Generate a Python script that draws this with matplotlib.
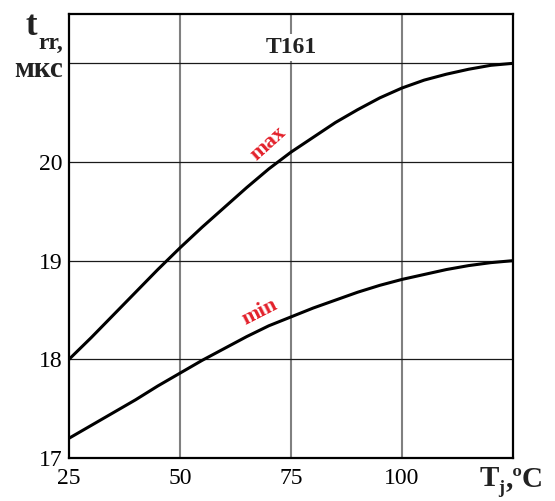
import matplotlib
matplotlib.use("Agg")
import matplotlib.pyplot as plt

plt.rcParams["font.family"] = ["Liberation Serif", "DejaVu Serif"]

tj = [25, 30, 35, 40, 45, 50, 55, 60, 65, 70, 75, 80, 85, 90, 95, 100, 105, 110, 115, 120, 125]
trr_max = [18.0, 18.22, 18.45, 18.68, 18.91, 19.13, 19.34, 19.54, 19.74, 19.93, 20.10,
           20.25, 20.40, 20.53, 20.65, 20.75, 20.83, 20.89, 20.94, 20.98, 21.0]
trr_min = [17.2, 17.33, 17.46, 17.59, 17.73, 17.86, 17.99, 18.11, 18.23, 18.34, 18.43,
           18.52, 18.60, 18.68, 18.75, 18.81, 18.86, 18.91, 18.95, 18.98, 19.0]

xticks = [25, 50, 75, 100]
yticks = [17, 18, 19, 20]
vgrid = [50, 75, 100]
hgrid = [18, 19, 20, 21]

W, H = 555, 501
fig = plt.figure(figsize=(W / 100, H / 100), dpi=100)
ax = fig.add_axes([69 / W, 1 - 458 / H, (513 - 69) / W, (458 - 14) / H])

for x in vgrid:
    ax.axvline(x, color="#808080", lw=1.5, zorder=1)
for y in hgrid:
    ax.axhline(y, color="#1a1a1a", lw=0.9, zorder=1)

ax.plot(tj, trr_max, color="black", lw=2.2, zorder=2)
ax.plot(tj, trr_min, color="black", lw=2.2, zorder=2)

ax.set_xlim(25, 125)
ax.set_ylim(17, 21.5)
ax.set_xticks(xticks)
ax.set_yticks(yticks)
ax.tick_params(axis="both", length=0, labelsize=17)
ax.tick_params(axis="x", pad=7)
ax.tick_params(axis="y", pad=5)
for s in ax.spines.values():
    s.set_linewidth(1.6)

ax.text(75, 21.16, "T161", ha="center", va="center", fontsize=17, fontweight="bold",
        color="#222222", zorder=3,
        bbox=dict(facecolor="white", edgecolor="none", pad=2))
ax.text(69.8, 20.19, "max", ha="center", va="center", rotation=42, fontsize=16,
        fontweight="bold", color="#e3212b", zorder=3)
ax.text(68, 18.48, "min", ha="center", va="center", rotation=27, fontsize=16,
        fontweight="bold", color="#e3212b", zorder=3)

# axis titles placed in pixel coordinates
def px(x, y):
    return x / W, 1 - y / H

fig.text(*px(26, 35), "t", fontsize=25, fontweight="bold", color="#222222", va="baseline")
fig.text(*px(38, 49), "rr,", fontsize=17, fontweight="bold", color="#222222", va="baseline")
fig.text(*px(63, 77), "мкс", fontsize=21, fontweight="bold", color="#222222",
         va="baseline", ha="right")

fig.text(*px(480, 486), "T", fontsize=21, fontweight="bold", color="#222222", va="baseline")
fig.text(*px(498, 493), "j", fontsize=13, fontweight="bold", color="#222222", va="baseline")
fig.text(*px(506, 486), ",ºC", fontsize=21, fontweight="bold", color="#222222", va="baseline")

fig.savefig("out.png", dpi=100)
